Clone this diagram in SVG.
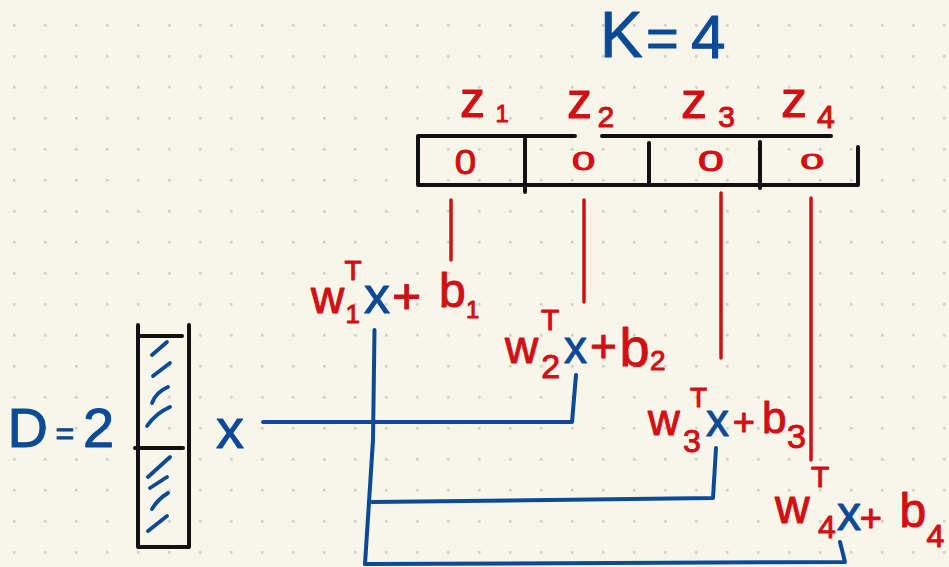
<svg xmlns="http://www.w3.org/2000/svg" width="949" height="567" viewBox="0 0 949 567">
  <defs>
    <pattern id="dot-grid" x="-1.2" y="9.8" width="31" height="31" patternUnits="userSpaceOnUse">
      <circle cx="15.5" cy="15.5" r="1.4" fill="#cdcbc2"/>
    </pattern>
    <style>
      text { font-family: "Liberation Sans", Arial, sans-serif; stroke-width: 1; stroke-linejoin: round; }
      .red { fill: #d20f14; stroke: #d20f14; }
      .blue { fill: #0c4a96; stroke: #0c4a96; }
      .frame { fill: none; stroke: #111111; stroke-width: 4; stroke-linecap: round; stroke-linejoin: round; }
      .tick { fill: none; stroke: #d20f14; stroke-width: 3.5; stroke-linecap: round; }
      .wire { fill: none; stroke: #0c4a96; stroke-width: 4; stroke-linecap: round; stroke-linejoin: round; }
      .hatch { fill: none; stroke: #0c4a96; stroke-width: 3.8; stroke-linecap: round; }
    </style>
  </defs>

  <!-- paper -->
  <rect width="949" height="567" fill="#f8f6ea"/>
  <rect width="949" height="567" fill="url(#dot-grid)"/>

  <!-- K = 4 -->
  <g id="k-label">
    <text class="blue"><tspan x="600" y="57" font-size="64">K</tspan><tspan x="646" y="57" font-size="56">=</tspan><tspan x="691" y="58" font-size="62">4</tspan></text>
  </g>

  <!-- z vector: labels and cells -->
  <g id="z-vector">
    <text class="red"><tspan x="460" y="117" font-size="50">z</tspan><tspan x="495.5" y="122" font-size="24">1</tspan></text>
    <text class="red"><tspan x="567" y="118" font-size="50">z</tspan><tspan x="597.4" y="127" font-size="30">2</tspan></text>
    <text class="red"><tspan x="681" y="118" font-size="52">z</tspan><tspan x="718.3" y="127" font-size="30">3</tspan></text>
    <text class="red"><tspan x="781" y="117" font-size="52">z</tspan><tspan x="816.9" y="128" font-size="32">4</tspan></text>

    <path class="frame" d="M575,136 H418 V185 H858 V147"/>
    <path class="frame" d="M602,136 H831"/>
    <path class="frame" d="M525,139 V192"/>
    <path class="frame" d="M649,143 V183"/>
    <path class="frame" d="M760,142 V188"/>

    <text class="red" font-size="35" text-anchor="middle" transform="translate(465.5,173.5) scale(1.1,1)">0</text>
    <text class="red" font-size="26" text-anchor="middle" transform="translate(583.5,170) scale(1.6,1)">0</text>
    <text class="red" font-size="29" text-anchor="middle" transform="translate(711,170.5) scale(1.6,1)">0</text>
    <text class="red" font-size="22" text-anchor="middle" transform="translate(812,168.5) scale(1.9,1)">0</text>

    <path class="tick" d="M451,200 V260"/>
    <path class="tick" d="M584,200 V302"/>
    <path class="tick" d="M721,193 V358"/>
    <path class="tick" d="M811,198 V460"/>
  </g>

  <!-- input vector x -->
  <g id="d-label">
    <text class="blue"><tspan x="7.5" y="447" font-size="56">D</tspan><tspan x="55.4" y="443.5" font-size="32">=</tspan><tspan x="83" y="447" font-size="56">2</tspan></text>
  </g>
  <g id="x-vector">
    <path class="frame" d="M138,325 V547 H189 V325"/>
    <path class="frame" d="M140,336 H182"/>
    <path class="frame" d="M135,448 H183"/>
    <path class="hatch" d="M152,355 L167,342 M153,376 L170,363 M152,403 Q156,392 168,387 M147,426 Q156,413 170,407"/>
    <path class="hatch" d="M148,477 L170,457 M150,488 L167,477 M152,509 Q158,499 168,493 M148,531 L167,516"/>
  </g>
  <g id="x-label">
    <text class="blue" font-size="56" x="216" y="448">x</text>
  </g>

  <!-- units w_k^T x + b_k -->
  <g id="unit-1">
    <text><tspan class="red" x="311" y="313" font-size="46">w</tspan><tspan class="red" x="344.5" y="280" font-size="28">T</tspan><tspan class="red" x="345.5" y="323" font-size="26">1</tspan><tspan class="blue" x="364" y="313" font-size="52">x</tspan><tspan class="red" x="392" y="313" font-size="50">+</tspan><tspan class="red" x="439" y="307" font-size="48">b</tspan><tspan class="red" x="466" y="318" font-size="24">1</tspan></text>
  </g>
  <g id="unit-2">
    <text><tspan class="red" x="505" y="363" font-size="46">w</tspan><tspan class="red" x="541" y="330" font-size="30">T</tspan><tspan class="red" x="541.3" y="378" font-size="34">2</tspan><tspan class="blue" x="564" y="363" font-size="46">x</tspan><tspan class="red" x="590" y="362" font-size="46">+</tspan><tspan class="red" x="619.5" y="366" font-size="54">b</tspan><tspan class="red" x="650" y="370" font-size="28">2</tspan></text>
  </g>
  <g id="unit-3">
    <text><tspan class="red" x="648" y="435" font-size="44">w</tspan><tspan class="red" x="690" y="407" font-size="28">T</tspan><tspan class="red" x="683" y="452" font-size="32">3</tspan><tspan class="blue" x="706" y="436" font-size="46">x</tspan><tspan class="red" x="732.7" y="434.5" font-size="38">+</tspan><tspan class="red" x="762" y="433" font-size="44">b</tspan><tspan class="red" x="787" y="448" font-size="34">3</tspan></text>
  </g>
  <g id="unit-4">
    <text><tspan class="red" x="775" y="523" font-size="48">w</tspan><tspan class="red" x="811" y="487" font-size="30">T</tspan><tspan class="red" x="818" y="538" font-size="32">4</tspan><tspan class="blue" x="837" y="530" font-size="48">x</tspan><tspan class="red" x="859.7" y="530.5" font-size="38">+</tspan><tspan class="red" x="899.5" y="527" font-size="48">b</tspan><tspan class="red" x="926.5" y="547" font-size="32">4</tspan></text>
  </g>

  <!-- wires from x to each unit -->
  <g id="connectors">
    <path class="wire" d="M263,422 H572 L576,375"/>
    <path class="wire" d="M374.5,330 L373,440 L365,564"/>
    <path class="wire" d="M372,502 L713,498 L716,448"/>
    <path class="wire" d="M365,564 L845,562 L840,542"/>
  </g>
</svg>
